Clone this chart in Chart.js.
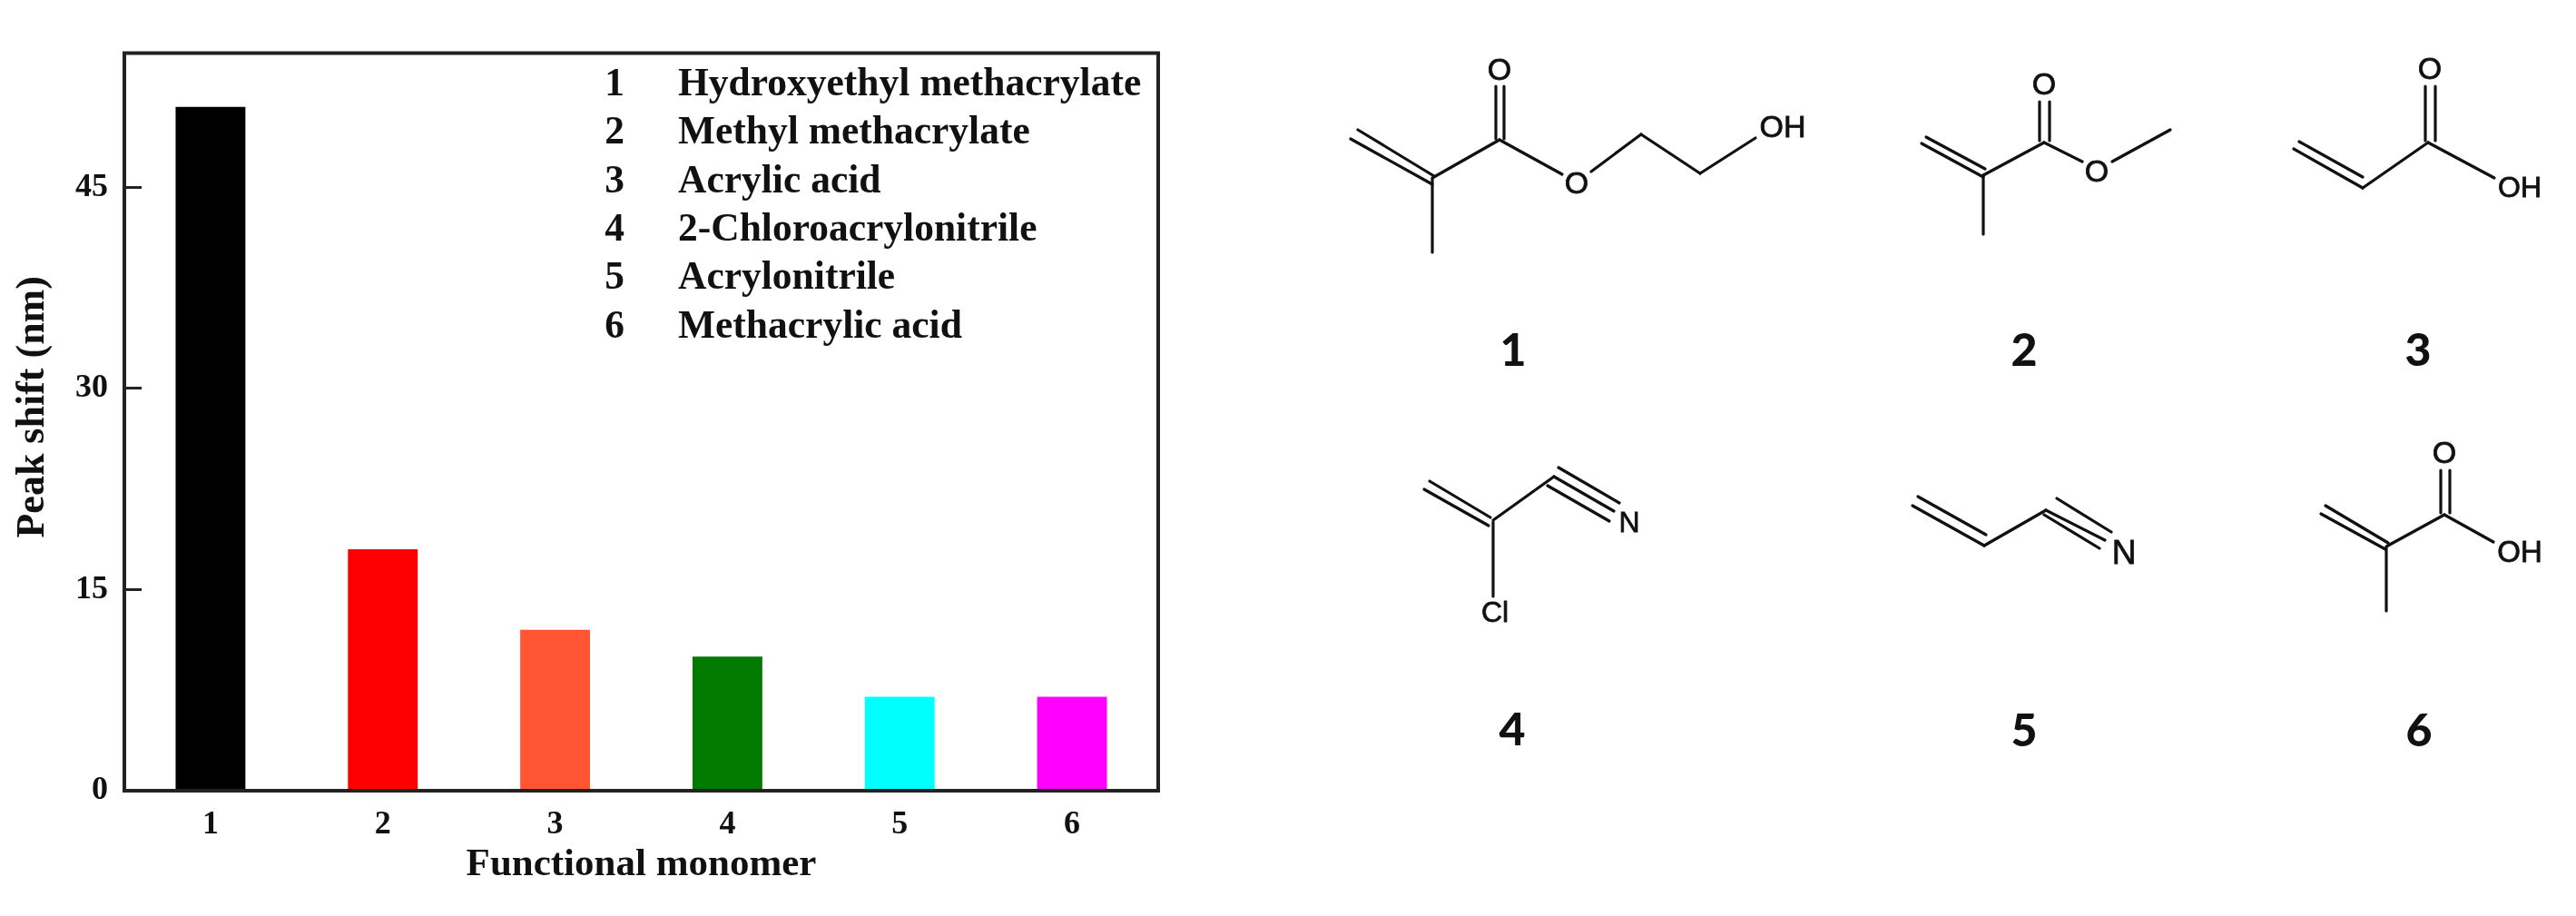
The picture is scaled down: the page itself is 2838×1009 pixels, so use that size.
<!DOCTYPE html>
<html>
<head>
<meta charset="utf-8">
<title>Peak shift by functional monomer</title>
<script src="https://cdn.jsdelivr.net/npm/chart.js@4"></script>
<style>
  html, body { margin: 0; padding: 0; background: #fff; }
  #wrap { position: relative; width: 2838px; height: 1009px; overflow: hidden; }
  #chart { position: absolute; left: 0; top: 0; }
  #structures { position: absolute; left: 0; top: 0; }
  #structures line { stroke: #111; stroke-width: 3.2; stroke-linecap: round; }
  #structures text { font-family: "Liberation Sans", sans-serif; fill: #111; stroke: #111; stroke-width: 0.8; text-anchor: middle; }
  #structures text.num { font-family: Lato, sans-serif; font-weight: 900; font-size: 50px; stroke: none; }
</style>
</head>
<body>
<div id="wrap">
  <canvas id="chart" width="2838" height="1009"></canvas>
  <svg id="structures" width="2838" height="1009" viewBox="0 0 2838 1009">
    <!-- 1 -->
    <line x1="1496" y1="143" x2="1580" y2="194"/><line x1="1488" y1="153" x2="1578" y2="203"/>
    <line x1="1578" y1="197" x2="1578" y2="278"/><line x1="1578" y1="196" x2="1652" y2="154"/>
    <line x1="1648" y1="95" x2="1648" y2="153"/><line x1="1657" y1="95" x2="1657" y2="153"/>
    <line x1="1652" y1="154" x2="1721" y2="192"/><line x1="1753" y1="189" x2="1808" y2="148"/>
    <line x1="1808" y1="148" x2="1873" y2="191"/><line x1="1873" y1="191" x2="1934" y2="152"/>
    <text x="1652" y="88" font-size="34">O</text><text x="1737" y="213" font-size="34">O</text>
    <text x="1964" y="151" font-size="34">OH</text>
    <text class="num" x="1667" y="403">1</text>
    <!-- 2 -->
    <line x1="2122" y1="151" x2="2187" y2="186"/><line x1="2117" y1="158" x2="2185" y2="195"/>
    <line x1="2185" y1="193" x2="2185" y2="258"/><line x1="2185" y1="193" x2="2252" y2="157"/>
    <line x1="2247" y1="112" x2="2247" y2="155"/><line x1="2258" y1="112" x2="2258" y2="155"/>
    <line x1="2252" y1="157" x2="2294" y2="178"/><line x1="2327" y1="178" x2="2391" y2="143"/>
    <text x="2252" y="104" font-size="34">O</text><text x="2310" y="200" font-size="34">O</text>
    <text class="num" x="2230" y="403">2</text>
    <!-- 3 -->
    <line x1="2533" y1="156" x2="2603" y2="195"/><line x1="2527" y1="164" x2="2603" y2="207"/>
    <line x1="2603" y1="207" x2="2675" y2="157"/>
    <line x1="2672" y1="95" x2="2672" y2="155"/><line x1="2683" y1="95" x2="2683" y2="155"/>
    <line x1="2675" y1="157" x2="2748" y2="196"/>
    <text x="2677" y="87" font-size="34">O</text><text x="2776" y="217" font-size="32">OH</text>
    <text class="num" x="2664" y="403">3</text>
    <!-- 4 -->
    <line x1="1575" y1="530" x2="1642" y2="570"/><line x1="1569" y1="539" x2="1640" y2="579"/>
    <line x1="1645" y1="573" x2="1712" y2="525"/><line x1="1645" y1="575" x2="1645" y2="657"/>
    <line x1="1717" y1="515" x2="1784" y2="554"/><line x1="1712" y1="525" x2="1778" y2="563"/>
    <line x1="1705" y1="535" x2="1773" y2="574"/>
    <text x="1795" y="586" font-size="32">N</text><text x="1647" y="685" font-size="32">Cl</text>
    <text class="num" x="1666" y="821">4</text>
    <!-- 5 -->
    <line x1="2113" y1="547" x2="2188" y2="589"/><line x1="2107" y1="557" x2="2186" y2="601"/>
    <line x1="2186" y1="601" x2="2254" y2="562"/>
    <line x1="2266" y1="549" x2="2326" y2="586"/><line x1="2254" y1="562" x2="2319" y2="595"/>
    <line x1="2252" y1="567" x2="2313" y2="604"/>
    <text x="2340" y="621" font-size="37">N</text>
    <text class="num" x="2230" y="822">5</text>
    <!-- 6 -->
    <line x1="2562" y1="557" x2="2631" y2="598"/><line x1="2557" y1="566" x2="2628" y2="605"/>
    <line x1="2629" y1="603" x2="2629" y2="673"/><line x1="2629" y1="602" x2="2693" y2="567"/>
    <line x1="2689" y1="518" x2="2689" y2="565"/><line x1="2699" y1="518" x2="2699" y2="565"/>
    <line x1="2693" y1="567" x2="2747" y2="597"/>
    <text x="2693" y="510" font-size="34">O</text><text x="2776" y="619" font-size="33">OH</text>
    <text class="num" x="2665" y="822">6</text>
  </svg>
</div>
<script>
const categories = ["1", "2", "3", "4", "5", "6"];
const peakShift = [51, 18, 12, 10, 7, 7];
const barColors = ["#000000", "#ff0000", "#ff5533", "#007a00", "#00ffff", "#ff00ff"];
const yTicks = [0, 15, 30, 45];
const legendNumbers = ["1", "2", "3", "4", "5", "6"];
const legendNames = [
  "Hydroxyethyl methacrylate",
  "Methyl methacrylate",
  "Acrylic acid",
  "2-Chloroacrylonitrile",
  "Acrylonitrile",
  "Methacrylic acid",
];

const serif = '"Liberation Serif", serif';
const frameColor = "#222222";

// top and right side of the box, and the monomer list inside the plot
const framePlugin = {
  id: "frame",
  afterDatasetsDraw(chart) {
    const { ctx, chartArea: a } = chart;
    ctx.save();
    ctx.strokeStyle = frameColor;
    ctx.lineWidth = 4;
    ctx.beginPath();
    ctx.moveTo(a.left - 2, a.top);
    ctx.lineTo(a.right, a.top);
    ctx.lineTo(a.right, a.bottom + 2);
    ctx.stroke();

    ctx.fillStyle = "#111";
    ctx.font = "bold 43.5px " + serif;
    ctx.textBaseline = "middle";
    legendNames.forEach((name, i) => {
      const y = a.top + 35 + i * 53.4;
      ctx.textAlign = "center";
      ctx.fillText(legendNumbers[i], a.left + 540, y);
      ctx.textAlign = "left";
      ctx.fillText(name, a.left + 610, y);
    });
    ctx.restore();
  },
};

const config = {
  type: "bar",
  data: {
    labels: categories,
    datasets: [
      {
        label: "Peak shift (nm)",
        data: peakShift,
        backgroundColor: barColors,
        barPercentage: 0.405,
        categoryPercentage: 1,
      },
    ],
  },
  options: {
    responsive: false,
    animation: false,
    devicePixelRatio: 1,
    layout: { padding: { top: 56, right: 1562, left: 0, bottom: 0 } },
    plugins: { legend: { display: false }, tooltip: { enabled: false } },
    scales: {
      x: {
        grid: { display: false, drawTicks: false },
        border: { display: true, color: frameColor, width: 4, z: 1 },
        ticks: {
          color: "#111",
          padding: 16,
          maxRotation: 0,
          font: { family: serif, weight: "bold", size: 36 },
        },
        title: {
          display: true,
          text: "Functional monomer",
          color: "#111",
          padding: { top: 0, bottom: 30 },
          font: { family: serif, weight: "bold", size: 43 },
        },
        afterFit(scale) {
          scale.height = 138;
        },
      },
      y: {
        min: 0,
        max: 55,
        afterBuildTicks(scale) {
          scale.ticks = yTicks.map((value) => ({ value }));
        },
        grid: {
          drawOnChartArea: false,
          drawTicks: true,
          tickLength: -19,
          tickWidth: 3,
          tickColor: frameColor,
        },
        border: { display: true, color: frameColor, width: 4, z: 1 },
        ticks: {
          color: "#111",
          padding: 37,
          font: { family: serif, weight: "bold", size: 36 },
        },
        title: {
          display: true,
          // leading spaces lift the rotated title, it sits above the axis middle
          text: "\u00a0\u00a0\u00a0Peak shift (nm)",
          color: "#111",
          padding: { top: 10, bottom: 0 },
          font: { family: serif, weight: "bold", size: 44 },
        },
        afterFit(scale) {
          scale.width = 137;
        },
      },
    },
  },
  plugins: [framePlugin],
};

const canvas = document.getElementById("chart").getContext("2d");
const chart = new Chart(canvas, config);
</script>
</body>
</html>
